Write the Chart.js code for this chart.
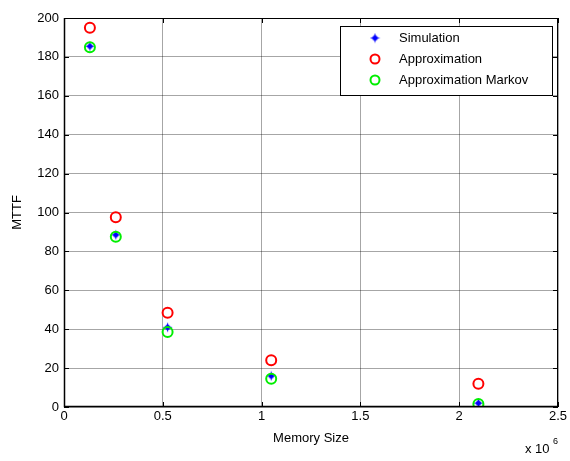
<!DOCTYPE html>
<html>
<head>
<meta charset="utf-8">
<script src="https://cdn.jsdelivr.net/npm/chart.js@4/dist/chart.umd.min.js"></script>
<style>
  html, body { margin: 0; padding: 0; background: #fff; }
  #wrap { width: 570px; height: 461px; }
</style>
</head>
<body>
<div id="wrap"><canvas id="c" width="570" height="461"></canvas></div>
<script>
// Speichergrößen (Bytes) und MTTF-Werte
const memorySizes = [131072, 262144, 524288, 1048576, 2097152];
const simulation = [185.5, 88.5, 41, 16, 2];
const approximation = [195, 97.5, 48.5, 24, 12];
const approxMarkov = [185, 87.5, 38.5, 14.5, 1.5];
const xTicks = [0, 0.5e6, 1e6, 1.5e6, 2e6, 2.5e6];
const yTicks = [0, 20, 40, 60, 80, 100, 120, 140, 160, 180, 200];

const FONT = 'Liberation Sans, Arial, sans-serif';

// Stern-Marker für Simulation
function makeStar(size, color) {
    const cv = document.createElement('canvas');
    cv.width = size; cv.height = size;
    const g = cv.getContext('2d');
    const c = size / 2, r = size / 2 - 0.5, ri = r * 0.35;
    g.fillStyle = color;
    g.beginPath();
    for (let i = 0; i < 8; i++) {
        const a = i * Math.PI / 4 - Math.PI / 2;
        const rr = i % 2 === 0 ? r : ri;
        g.lineTo(c + rr * Math.cos(a), c + rr * Math.sin(a));
    }
    g.closePath();
    g.fill();
    g.beginPath();
    g.arc(c, c, r * 0.5, 0, Math.PI * 2);
    g.fill();
    return cv;
}
const starImg = makeStar(11, '#0000ff');

const toPoints = ys => memorySizes.map((x, i) => ({ x: x, y: ys[i] }));

const framePlugin = {
    id: 'frame',
    afterDraw(chart) {
        const ctx = chart.ctx;
        const a = chart.chartArea;
        const xs = chart.scales.x, ys = chart.scales.y;
        ctx.save();
        ctx.strokeStyle = '#000';
        ctx.lineWidth = 1;
        ctx.beginPath();
        ctx.rect(a.left + 0.5, a.top + 0.5, a.right - a.left - 1, a.bottom - a.top - 1);
        ctx.stroke();
        // Achsenlinien unten/links etwas kräftiger
        ctx.lineWidth = 1.5;
        ctx.beginPath();
        ctx.moveTo(a.left + 0.5, a.top);
        ctx.lineTo(a.left + 0.5, a.bottom - 0.5);
        ctx.lineTo(a.right, a.bottom - 0.5);
        ctx.stroke();
        // Ticks nach innen
        ctx.lineWidth = 1;
        ctx.beginPath();
        xTicks.forEach(v => {
            const px = Math.round(xs.getPixelForValue(v)) + 0.5;
            ctx.moveTo(px, a.bottom); ctx.lineTo(px, a.bottom - 5);
            ctx.moveTo(px, a.top); ctx.lineTo(px, a.top + 5);
        });
        yTicks.forEach(v => {
            const py = Math.round(ys.getPixelForValue(v)) + 0.5;
            ctx.moveTo(a.left, py); ctx.lineTo(a.left + 5, py);
            ctx.moveTo(a.right, py); ctx.lineTo(a.right - 5, py);
        });
        ctx.stroke();

        // Achsentitel
        ctx.fillStyle = '#000';
        ctx.font = '13px ' + FONT;
        ctx.textAlign = 'center';
        ctx.textBaseline = 'middle';
        ctx.fillText('Memory Size', (a.left + a.right) / 2, 438);
        ctx.save();
        ctx.translate(17, (a.top + a.bottom) / 2);
        ctx.rotate(-Math.PI / 2);
        ctx.fillText('MTTF', 0, 0);
        ctx.restore();
        ctx.textAlign = 'left';
        ctx.fillText('x 10', 525, 449);
        ctx.font = '9px ' + FONT;
        ctx.fillText('6', 553, 442);

        // Legende
        const lx = 340, ly = 26, lw = 212, lh = 69;
        ctx.fillStyle = '#fff';
        ctx.fillRect(lx, ly, lw, lh);
        ctx.strokeStyle = '#000';
        ctx.strokeRect(lx + 0.5, ly + 0.5, lw, lh);
        const items = [
            { label: 'Simulation', kind: 'star' },
            { label: 'Approximation', color: '#ff0000' },
            { label: 'Approximation Markov', color: '#00ee00' }
        ];
        ctx.font = '13px ' + FONT;
        ctx.textBaseline = 'middle';
        items.forEach((it, i) => {
            const cy = ly + 12 + i * 21;
            const cx = lx + 35;
            if (it.kind === 'star') {
                ctx.drawImage(starImg, cx - 5.5, cy - 5.5);
            } else {
                ctx.beginPath();
                ctx.strokeStyle = it.color;
                ctx.lineWidth = 2;
                ctx.arc(cx, cy, 4.5, 0, Math.PI * 2);
                ctx.stroke();
            }
            ctx.fillStyle = '#000';
            ctx.fillText(it.label, lx + 59, cy);
        });
        ctx.restore();
    }
};

new Chart(document.getElementById('c'), {
    type: 'scatter',
    data: {
        datasets: [
            {
                label: 'Approximation Markov',
                data: toPoints(approxMarkov),
                pointStyle: 'circle',
                pointRadius: 5,
                borderColor: '#00ee00',
                backgroundColor: 'rgba(0,0,0,0)',
                borderWidth: 2
            },
            {
                label: 'Simulation',
                data: toPoints(simulation),
                pointStyle: starImg,
                pointRadius: 5
            },
            {
                label: 'Approximation',
                data: toPoints(approximation),
                pointStyle: 'circle',
                pointRadius: 5,
                borderColor: '#ff0000',
                backgroundColor: 'rgba(0,0,0,0)',
                borderWidth: 2
            }
        ]
    },
    options: {
        responsive: false,
        animation: false,
        events: [],
        layout: { padding: { top: 18, right: 12, left: 0, bottom: 0 } },
        plugins: {
            legend: { display: false },
            tooltip: { enabled: false }
        },
        scales: {
            x: {
                type: 'linear',
                min: 0,
                max: 2.5e6,
                afterBuildTicks: s => { s.ticks = xTicks.map(v => ({ value: v })); },
                afterFit: s => { s.height = 54; },
                ticks: {
                    color: '#000',
                    font: { family: FONT, size: 13 },
                    padding: 2,
                    maxRotation: 0,
                    callback: v => String(v / 1e6)
                },
                grid: {
                    color: 'rgba(0,0,0,0.35)',
                    drawTicks: false
                },
                border: { display: false }
            },
            y: {
                min: 0,
                max: 200,
                afterBuildTicks: s => { s.ticks = yTicks.map(v => ({ value: v })); },
                afterFit: s => { s.width = 64; },
                ticks: {
                    color: '#000',
                    font: { family: FONT, size: 13 },
                    padding: 5
                },
                grid: {
                    color: 'rgba(0,0,0,0.35)',
                    drawTicks: false
                },
                border: { display: false }
            }
        }
    },
    plugins: [framePlugin]
});
</script>
</body>
</html>
